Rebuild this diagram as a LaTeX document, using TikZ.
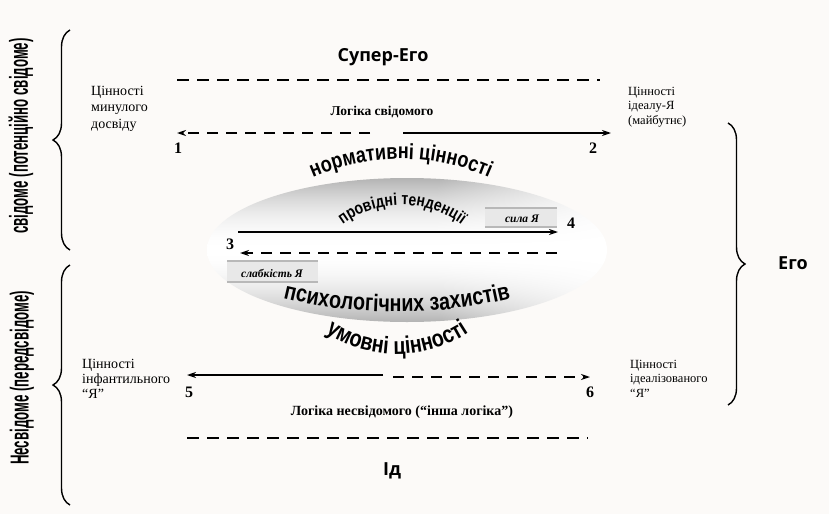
\documentclass[tikz,border=0pt]{standalone}
\usepackage{fontspec}
\setmainfont{Liberation Serif}
\newfontfamily\arcsans[FakeStretch=0.82]{Liberation Sans}
\newfontfamily\condsans[FakeStretch=0.51]{Liberation Sans}
\newfontfamily\roundsans{Open Sans}
\usetikzlibrary{decorations.text,decorations.pathreplacing,arrows.meta}
\definecolor{paper}{HTML}{FCFAF8}
\pgfdeclarefunctionalshading{ellshade}{\pgfpoint{-50bp}{-50bp}}{\pgfpoint{50bp}{50bp}}{}{
  25 div dup mul
  exch 25 div
  1.15 exch sub
  dup 1 gt {pop 1} if
  dup 0 lt {pop 0} if
  mul 0.30 mul
  1 exch sub
  dup 0.6 lt {pop 0.6} if
  dup dup
}
\tikzset{
  bracestyle/.style={decorate,decoration={brace,amplitude=17pt,aspect=0.5},line width=1.4pt},
  sepline/.style={line width=2.4pt,dash pattern=on 12pt off 8pt},
  solidarrow/.style={line width=1.6pt,-{Stealth[length=9pt,width=6pt]}},
  dasharrow/.style={line width=2pt,dash pattern=on 11pt off 8pt,-{Stealth[length=9pt,width=6pt]}},
  valtext/.style={align=left,inner sep=0pt,anchor=north west},
  numlabel/.style={font=\fontsize{16}{16}\selectfont\bfseries,inner sep=0pt},
  logictext/.style={font=\fontsize{13.5}{14}\selectfont\bfseries,inner sep=0pt},
  bigsans/.style={font=\roundsans\bfseries\fontsize{18}{18}\selectfont,inner sep=0pt},
  sidetext/.style={rotate=90,inner sep=0pt,font=\condsans\bfseries\fontsize{26}{26}\selectfont},
  strip/.style={fill=black!9,draw=none},
  stripline/.style={draw=black!28,line width=1.6pt},
  striptext/.style={font=\fontsize{11.5}{12}\selectfont\bfseries\itshape,inner sep=0pt},
  arctext/.style={decorate,decoration={text along path,text align=center,text={#1}}},
}
\begin{document}
\begin{tikzpicture}[x=1pt,y=-1pt]
\useasboundingbox (0,0) rectangle (829,514);
\fill[paper] (0,0) rectangle (829,514);

% ellipse
\shade[shading=ellshade] (407,250) ellipse [x radius=200, y radius=72];

% strips
\fill[strip] (485,208) rectangle (557,227);
\draw[stripline] (485,208) -- (557,208);
\draw[stripline] (485,227) -- (557,227);
\node[striptext] (sila) at (522,219) {сила Я};
\fill[strip] (227,261) rectangle (318,282);
\draw[stripline] (227,261) -- (318,261);
\draw[stripline] (227,282) -- (318,282);
\node[striptext] (slab) at (272,273) {слабкість Я};

% braces
\draw[bracestyle] (70,250) -- (70,30);
\draw[bracestyle] (70,505) -- (70,265);
\draw[bracestyle] (728,123) -- (728,405);

% side texts
\node[sidetext] (svid) at (21,136) {свідоме (потенційно свідоме)};
\node[sidetext] (nesvid) at (22,378) {Несвідоме (передсвідоме)};
\node[bigsans] (ego) at (793,263) {Его};

% top
\node[bigsans] (superego) at (383,57) {Супер-Его};
\coordinate (tl1) at (177,80);
\coordinate (tl2) at (600,80);
\draw[sepline] (tl1) -- (tl2);
\node[logictext] (logsv) at (382,112) {Логіка свідомого};

\node[valtext,font=\fontsize{14}{16.5}\selectfont] (vpast) at (91,86) {Цінності\\минулого\\досвіду};
\node[valtext,font=\fontsize{12.5}{14.5}\selectfont] (videal) at (628,87) {Цінності\\ідеалу-Я\\(майбутнє)};

\coordinate (a1s) at (370,133);
\coordinate (a1e) at (177,133);
\coordinate (a2s) at (403,133);
\coordinate (a2e) at (611,133);
\draw[dasharrow] (a1s) -- (a1e);
\draw[solidarrow] (a2s) -- (a2e);
\node[numlabel] (n1) at (178,148) {1};
\node[numlabel] (n2) at (593,148) {2};

% arc texts
\path[arctext={|\arcsans\bfseries\fontsize{22}{22}\selectfont|нормативні цінності}]
  (301.1,183) arc[start angle=243, end angle=297, radius=220];
\path[arctext={|\arcsans\bfseries\fontsize{17}{17}\selectfont|провідні тенденції}]
  (335.1,230.7) arc[start angle=228, end angle=312, radius=100];
\path[arctext={|\arcsans\bfseries\fontsize{24}{24}\selectfont|психологічних захистів}]
  (272.8,295.6) arc[start angle=105, end angle=75, radius=480];
\path[arctext={|\arcsans\bfseries\fontsize{24}{24}\selectfont|умовні цінності}]
  (318.8,327.8) arc[start angle=127, end angle=53, radius=130];

% middle arrows
\coordinate (a3) at (238,232);
\coordinate (a4) at (558,232);
\draw[solidarrow] (a3) -- (a4);
\coordinate (b4) at (557,253);
\coordinate (b3) at (240,253);
\draw[dasharrow] (b4) -- (b3);
\node[numlabel] (n3) at (230,244) {3};
\node[numlabel] (n4) at (571,223) {4};

% bottom
\coordinate (a5s) at (383,375);
\coordinate (a5e) at (187,375);
\coordinate (a6s) at (393,377);
\coordinate (a6e) at (590,377);
\draw[solidarrow] (a5s) -- (a5e);
\draw[dasharrow] (a6s) -- (a6e);
\node[numlabel] (n5) at (189,392) {5};
\node[numlabel] (n6) at (590,392) {6};
\node[logictext,font=\fontsize{14}{15}\selectfont\bfseries] (logns) at (402,412) {Логіка несвідомого (“інша логіка”)};
\coordinate (bl1) at (187,438);
\coordinate (bl2) at (588,438);
\draw[sepline] (bl1) -- (bl2);
\node[bigsans] (id) at (392,471) {Ід};

\node[valtext,font=\fontsize{14}{15}\selectfont] (vinf) at (82,359) {Цінності\\інфантильного\\“Я”};
\node[valtext,font=\fontsize{12.5}{14.5}\selectfont] (vidz) at (630,360) {Цінності\\ідеалізованого\\“Я”};
\end{tikzpicture}
\end{document}
